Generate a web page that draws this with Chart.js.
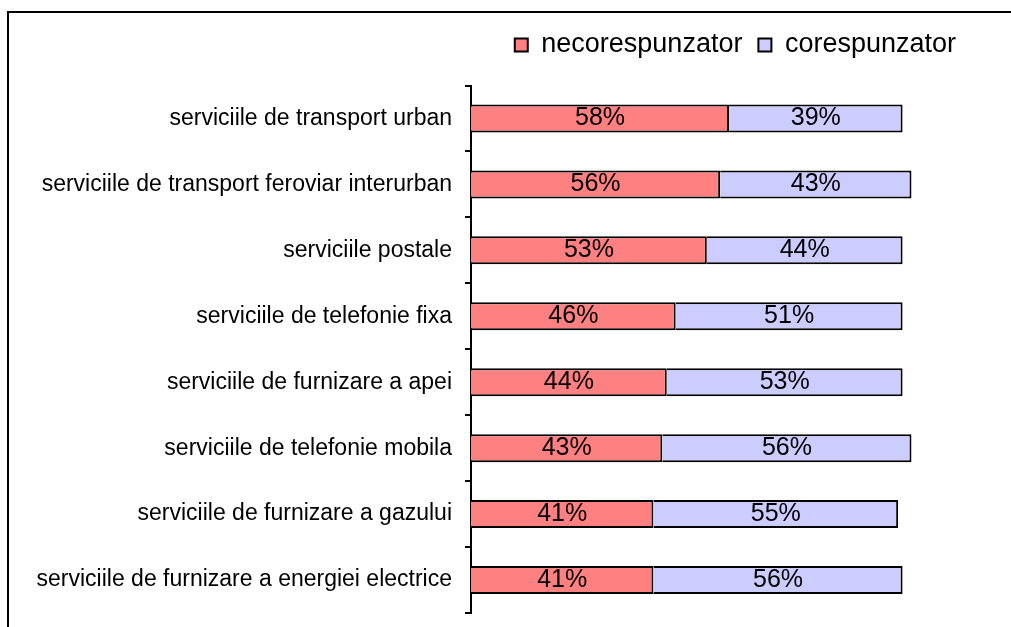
<!DOCTYPE html>
<html>
<head>
<meta charset="utf-8">
<script src="https://cdn.jsdelivr.net/npm/chart.js@4/dist/chart.umd.min.js"></script>
<style>
  body { margin: 0; background: #fff; }
  canvas { display: block; }
</style>
</head>
<body>
<canvas id="myChart" width="1011" height="627"></canvas>
<script>
const categorii = [
  'serviciile de transport urban',
  'serviciile de transport feroviar interurban',
  'serviciile postale',
  'serviciile de telefonie fixa',
  'serviciile de furnizare a apei',
  'serviciile de telefonie mobila',
  'serviciile de furnizare a gazului',
  'serviciile de furnizare a energiei electrice'
];
const necorespunzator = [58, 56, 53, 46, 44, 43, 41, 41];
const corespunzator = [39, 43, 44, 51, 53, 56, 55, 56];

Chart.defaults.font.family = "'Liberation Sans', Arial, sans-serif";
Chart.defaults.color = '#000';

// chenarul din jurul graficului (doar stanga si sus se vad)
const chenar = {
  id: 'chenar',
  beforeDraw(chart) {
    const c = chart.ctx;
    c.save();
    c.strokeStyle = '#000';
    c.lineWidth = 2;
    c.beginPath();
    c.moveTo(8, chart.height + 2);
    c.lineTo(8, 12);
    c.lineTo(chart.width + 2, 12);
    c.stroke();
    c.restore();
  }
};

// procentele scrise in mijlocul fiecarei bare
const etichete = {
  id: 'etichete',
  afterDatasetsDraw(chart) {
    const c = chart.ctx;
    c.save();
    c.font = "25px 'Liberation Sans', Arial, sans-serif";
    c.fillStyle = '#000';
    c.textAlign = 'center';
    c.textBaseline = 'middle';
    chart.data.datasets.forEach((ds, i) => {
      chart.getDatasetMeta(i).data.forEach((bar, j) => {
        c.fillText(ds.data[j] + '%', (bar.x + bar.base) / 2, bar.y);
      });
    });
    c.restore();
  }
};

const ctx = document.getElementById('myChart').getContext('2d');
const myChart = new Chart(ctx, {
  type: 'bar',
  data: {
    labels: categorii,
    datasets: [{
      label: 'necorespunzator',
      data: necorespunzator,
      backgroundColor: '#FF8080',
      borderColor: '#000',
      borderWidth: 2
    }, {
      label: 'corespunzator',
      data: corespunzator,
      backgroundColor: '#CCCCFF',
      borderColor: '#000',
      borderWidth: 2
    }]
  },
  options: {
    indexAxis: 'y',
    responsive: false,
    animation: false,
    layout: { padding: { left: 0, right: 39, top: 15.5, bottom: 14 } },
    categoryPercentage: 0.424,
    barPercentage: 1,
    plugins: {
      legend: {
        align: 'end',
        labels: {
          boxWidth: 13,
          boxHeight: 13,
          padding: 16,
          font: { size: 27 }
        }
      },
      tooltip: { enabled: false }
    },
    scales: {
      x: {
        stacked: true,
        position: 'top',
        min: 0,
        max: 112.6,
        ticks: { display: false },
        grid: { display: false },
        border: { display: false },
        afterFit(s) { s.height = 17; }
      },
      y: {
        stacked: true,
        grid: {
          drawOnChartArea: false,
          drawTicks: true,
          tickLength: 6,
          color: '#000',
          lineWidth: 2
        },
        border: { display: true, color: '#000', width: 2 },
        ticks: {
          autoSkip: false,
          padding: 13,
          font: { size: 23 }
        },
        afterFit(s) {
          s.width = 471;
          s.paddingTop = 0;
          s.paddingBottom = 0;
        }
      }
    }
  },
  plugins: [chenar, etichete]
});
</script>
</body>
</html>
